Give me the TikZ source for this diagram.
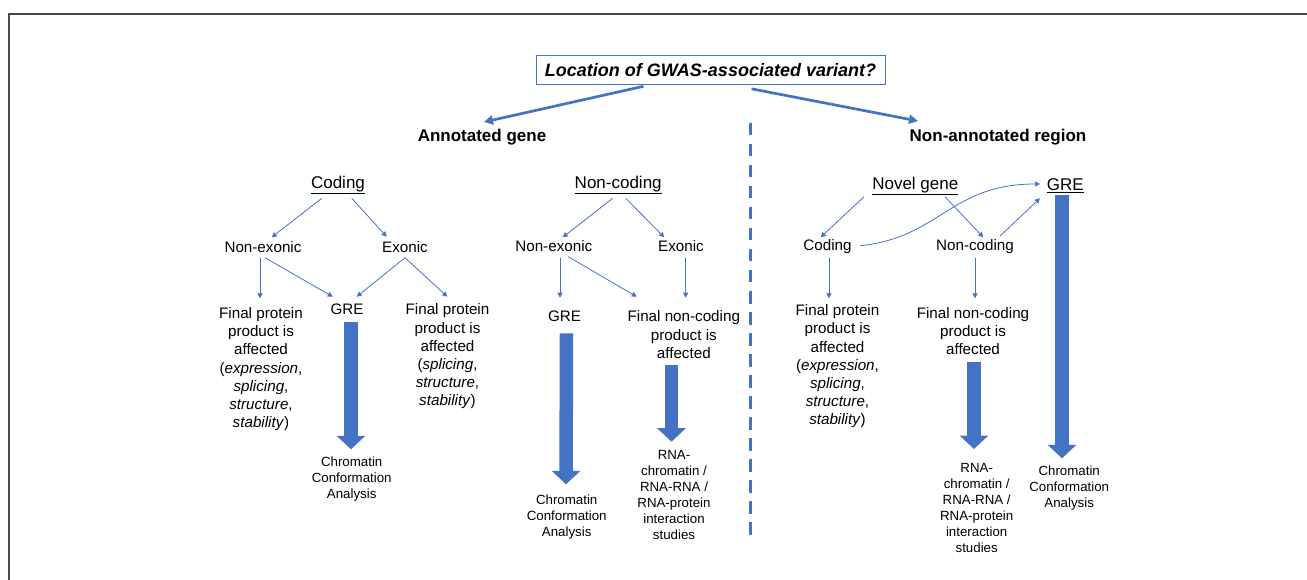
\documentclass[tikz,border=0pt]{standalone}
\usepackage{fontspec}
\setmainfont{Liberation Sans}
\usetikzlibrary{arrows.meta}
\definecolor{myblue}{HTML}{4472C4}
\definecolor{frame}{HTML}{4A4A4A}
\tikzset{
  body/.style={inner sep=0pt, align=center, font=\fontsize{15.2}{18.2}\selectfont},
  head/.style={inner sep=0pt, font=\fontsize{17}{20}\selectfont},
  bhead/.style={inner sep=0pt, font=\fontsize{17}{20}\selectfont\bfseries},
  small/.style={inner sep=0pt, align=center, font=\fontsize{13.3}{16}\selectfont},
  thin/.style={draw=myblue, line width=0.8pt, -{Triangle[length=5pt 0 0,width=5pt 0 0]}},
  main/.style={draw=myblue, line width=2.7pt, -{Triangle[length=9pt 0 0,width=9pt 0 0]}},
  block/.style={draw=myblue, line width=13.5pt, -{Triangle[length=13.5pt 0 0,width=28pt 0 0]}},
}
\begin{document}
\begin{tikzpicture}[x=1pt,y=-1pt]
\useasboundingbox (0,0) rectangle (1307,580);
% frame
\coordinate (ftl) at (9,14);
\coordinate (ftr) at (1307,14);
\coordinate (fbl) at (9,580);
\draw[frame, line width=1.5pt] (fbl) -- (ftl) -- (ftr);

% title
\node[draw=myblue, line width=1pt, minimum width=349pt, minimum height=29pt, inner sep=0pt,
      font=\fontsize{18}{21}\selectfont\bfseries\itshape] (title) at (710.5,70.3) {Location of GWAS-associated variant?};
\node[bhead] (ann) at (482,137) {Annotated gene};
\node[bhead] (nonann) at (998,137) {Non-annotated region};
\draw[main] ([xshift=-67pt,yshift=-16pt]title.center) -- ([xshift=2pt,yshift=15pt]ann.center);
\draw[main] ([xshift=41pt,yshift=-18.5pt]title.center) -- ([xshift=-80pt,yshift=16pt]nonann.center);

% dashed divider
\coordinate (dtop) at (750,123);
\coordinate (dbot) at (750,535);
\draw[myblue, line width=3pt, dash pattern=on 12.5pt off 8.5pt] (dtop) -- (dbot);

% ---------- left tree ----------
\node[head] (cod1) at (338,185) {\underline{Coding}};
\node[body] (nex1) at (263,247) {Non-exonic};
\node[body] (exo1) at (405,247) {Exonic};
\node[body] (gre1) at (347,309) {GRE};
\node[body] (fp1) at (261,369.2) {Final protein\\product is\\affected\\(\textit{expression},\\\textit{splicing},\\\textit{structure},\\\textit{stability})};
\node[body] (fp2) at (447.5,356.5) {Final protein\\product is\\affected\\(\textit{splicing},\\\textit{structure},\\\textit{stability})};
\node[small] (cca1) at (351.7,479) {Chromatin\\Conformation\\Analysis};

\draw[thin] ([xshift=-16.3pt,yshift=-13.3pt]cod1.center) -- ([xshift=8.7pt,yshift=9.7pt]nex1.center);
\draw[thin] ([xshift=13.7pt,yshift=-13.3pt]cod1.center) -- ([xshift=-18.3pt,yshift=10.3pt]exo1.center);
\draw[thin] ([xshift=-3pt,yshift=-11.3pt]nex1.center) -- ([xshift=-1pt,yshift=70.9pt]fp1.center);
\draw[thin] ([xshift=2pt,yshift=-10.7pt]nex1.center) -- ([xshift=-14.3pt,yshift=12.3pt]gre1.center);
\draw[thin] ([xshift=0pt,yshift=-10.7pt]exo1.center) -- ([xshift=9.7pt,yshift=12.3pt]gre1.center);
\draw[thin] ([xshift=0pt,yshift=-10.7pt]exo1.center) -- ([xshift=-0.2pt,yshift=59.8pt]fp2.center);
\draw[block] ([xshift=4pt,yshift=-13pt]gre1.center) -- ([xshift=-0.7pt,yshift=29.7pt]cca1.center);

% ---------- middle tree ----------
\node[head] (cod2) at (618.2,185) {\underline{Non-coding}};
\node[body] (nex2) at (553.8,246) {Non-exonic};
\node[body] (exo2) at (681,246) {Exonic};
\node[body] (gre2) at (564.5,316) {GRE};
\node[body] (fnc1) at (683.8,334.7) {Final non-coding\\product is\\affected};
\node[small] (cca2) at (566.7,516.7) {Chromatin\\Conformation\\Analysis};
\node[small] (rna1) at (674,495.3) {RNA-\\chromatin /\\RNA-RNA /\\RNA-protein\\interaction\\studies};

\draw[thin] ([xshift=-5.5pt,yshift=-13.3pt]cod2.center) -- ([xshift=8.9pt,yshift=8.7pt]nex2.center);
\draw[thin] ([xshift=7.5pt,yshift=-13.3pt]cod2.center) -- ([xshift=-16.7pt,yshift=8.7pt]exo2.center);
\draw[thin] ([xshift=6.2pt,yshift=-12.3pt]nex2.center) -- ([xshift=-4.5pt,yshift=18.3pt]gre2.center);
\draw[thin] ([xshift=14.5pt,yshift=-10.7pt]nex2.center) -- ([xshift=-47.1pt,yshift=38pt]fnc1.center);
\draw[thin] ([xshift=4.7pt,yshift=-12.3pt]exo2.center) -- ([xshift=1.9pt,yshift=37pt]fnc1.center);
\draw[block] ([xshift=2pt,yshift=-17.3pt]gre2.center) -- ([xshift=-0.7pt,yshift=32.4pt]cca2.center);
\draw[block] ([xshift=-12.3pt,yshift=-30.3pt]fnc1.center) -- ([xshift=-2.5pt,yshift=53.6pt]rna1.center);

% ---------- right tree ----------
\node[head] (ng) at (915.3,185.7) {\underline{Novel gene}};
\node[head] (gre3) at (1065.3,185.7) {\underline{GRE}};
\node[body] (cod3) at (827.5,246.7) {Coding};
\node[body] (nc3) at (975,246.7) {Non-coding};
\node[body] (fp3) at (837.5,366.3) {Final protein\\product is\\affected\\(\textit{expression},\\\textit{splicing},\\\textit{structure},\\\textit{stability})};
\node[body] (fnc2) at (973,330.8) {Final non-coding\\product is\\affected};
\node[small] (rna2) at (976.7,507.5) {RNA-\\chromatin /\\RNA-RNA /\\RNA-protein\\interaction\\studies};
\node[small] (cca3) at (1069.2,487.8) {Chromatin\\Conformation\\Analysis};

\draw[thin] ([xshift=-51.3pt,yshift=-11pt]ng.center) -- ([xshift=-6.8pt,yshift=9.4pt]cod3.center);
\draw[thin] ([xshift=29.7pt,yshift=-11pt]ng.center) -- ([xshift=8.3pt,yshift=9.4pt]nc3.center);
\draw[thin] ([xshift=32.5pt,yshift=1pt]cod3.center) .. controls +(80,-8) and +(-90,0) .. ([xshift=-25.3pt,yshift=1.7pt]gre3.center);
\draw[thin] ([xshift=25pt,yshift=10.7pt]nc3.center) -- ([xshift=-25.3pt,yshift=-12.6pt]gre3.center);
\draw[thin] ([xshift=1.5pt,yshift=-11.6pt]cod3.center) -- ([xshift=-8.5pt,yshift=68pt]fp3.center);
\draw[thin] ([xshift=0pt,yshift=-11.6pt]nc3.center) -- ([xshift=2pt,yshift=32.5pt]fnc2.center);
\draw[block] ([xshift=1pt,yshift=-30.9pt]fnc2.center) -- ([xshift=-2.7pt,yshift=58.5pt]rna2.center);
\draw[block] ([xshift=-3.3pt,yshift=-9.3pt]gre3.center) -- ([xshift=-7.2pt,yshift=29.5pt]cca3.center);
\end{tikzpicture}
\end{document}
